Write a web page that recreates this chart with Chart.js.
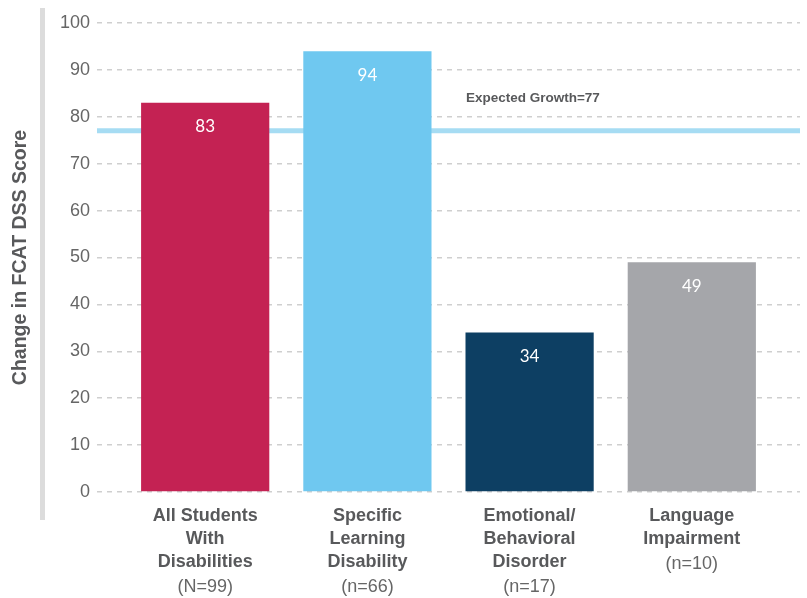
<!DOCTYPE html>
<html>
<head>
<meta charset="utf-8">
<script src="https://cdn.jsdelivr.net/npm/chart.js@4"></script>
<style>
  html, body { margin: 0; padding: 0; background: #fff; }
  #wrap { width: 807px; height: 598px; }
</style>
</head>
<body>
<div id="wrap"><canvas id="canvas" width="807" height="598"></canvas></div>
<script>
// chart data
const categories = [
    ['All Students', 'With', 'Disabilities'],
    ['Specific', 'Learning', 'Disability'],
    ['Emotional/', 'Behavioral', 'Disorder'],
    ['Language', 'Impairment']
];
const groupSizes = ['(N=99)', '(n=66)', '(n=17)', '(n=10)'];
const scores = [83, 94, 34, 49];
const expectedGrowth = 77;
const yMin = 0, yMax = 100, yStep = 10;
const barColors = ['#C42253', '#6FC8F0', '#0D3F63', '#A5A6AA'];

const textGrey = '#58595B';
const narrow = "'Liberation Sans Narrow', 'Arial Narrow', 'Liberation Sans', sans-serif";

// x range leaves room on both sides of the first and last bar
const xMin = -0.667, xMax = categories.length - 1 + 0.667;

// extra drawing: left rule, value labels, group sizes, line label
const extras = {
    id: 'extras',
    beforeDraw(chart) {
        const ctx = chart.ctx;
        ctx.save();
        ctx.fillStyle = '#DCDCDC';
        ctx.fillRect(40, 8, 5, 512);
        ctx.restore();
    },
    afterDraw(chart) {
        const ctx = chart.ctx;
        const xs = chart.scales.x, ys = chart.scales.y;
        const barMeta = chart.getDatasetMeta(1);
        ctx.save();
        ctx.textAlign = 'center';
        ctx.textBaseline = 'middle';

        // numbers inside bars
        ctx.fillStyle = '#fff';
        ctx.font = "17px Lato, 'Open Sans', sans-serif";
        barMeta.data.forEach((bar, i) => {
            ctx.fillText(String(scores[i]), bar.x, bar.y + 24);
        });

        // (n=..) line under each category label
        ctx.fillStyle = '#666';
        ctx.font = '18px ' + narrow;
        groupSizes.forEach((s, i) => {
            const lines = categories[i].length;
            ctx.fillText(s, xs.getPixelForValue(i), chart.chartArea.bottom + 25 + 23.4 * lines);
        });

        // expected growth label
        ctx.fillStyle = textGrey;
        ctx.font = 'bold 13.5px ' + narrow;
        ctx.fillText('Expected Growth=' + expectedGrowth, xs.getPixelForValue(2.02), ys.getPixelForValue(84));
        ctx.restore();
    }
};

let ctx = document.getElementById('canvas').getContext('2d');

new Chart(ctx, {
    data: {
        datasets: [
            {
                type: 'line',
                label: 'Expected Growth',
                data: [{ x: xMin, y: expectedGrowth }, { x: xMax, y: expectedGrowth }],
                borderColor: '#A6DCF3',
                borderWidth: 5,
                pointRadius: 0,
                order: 2
            },
            {
                type: 'bar',
                label: 'Change in FCAT DSS Score',
                data: scores.map((v, i) => ({ x: i, y: v })),
                backgroundColor: barColors,
                borderWidth: 0,
                categoryPercentage: 0.8,
                barPercentage: 0.988,
                order: 1
            }
        ]
    },
    options: {
        responsive: false,
        animation: false,
        layout: { padding: { left: 0, right: 7, top: 23, bottom: 0 } },
        plugins: {
            legend: { display: false },
            tooltip: { enabled: false }
        },
        scales: {
            x: {
                type: 'linear',
                min: xMin,
                max: xMax,
                offset: false,
                grid: { display: false, drawTicks: false, offset: false },
                border: { display: false },
                afterBuildTicks: (scale) => {
                    scale.ticks = categories.map((c, i) => ({ value: i }));
                },
                afterFit: (scale) => { scale.height = 106; },
                ticks: {
                    autoSkip: false,
                    maxRotation: 0,
                    padding: 12,
                    color: textGrey,
                    font: { family: narrow, size: 18, weight: 'bold', lineHeight: 1.3 },
                    callback: (v) => categories[v]
                }
            },
            y: {
                min: yMin,
                max: yMax,
                afterFit: (scale) => { scale.width = 97; },
                grid: {
                    color: '#CFCFCF',
                    lineWidth: 1.5,
                    drawTicks: false
                },
                border: { display: false, dash: [5, 5] },
                ticks: {
                    stepSize: yStep,
                    padding: 7,
                    color: '#666',
                    font: { family: narrow, size: 18 }
                },
                title: {
                    display: true,
                    text: 'Change in FCAT DSS Score',
                    color: textGrey,
                    font: { family: narrow, size: 19.5, weight: 'bold' },
                    padding: { top: 9, bottom: 0 }
                }
            }
        }
    },
    plugins: [extras]
});
</script>
</body>
</html>
